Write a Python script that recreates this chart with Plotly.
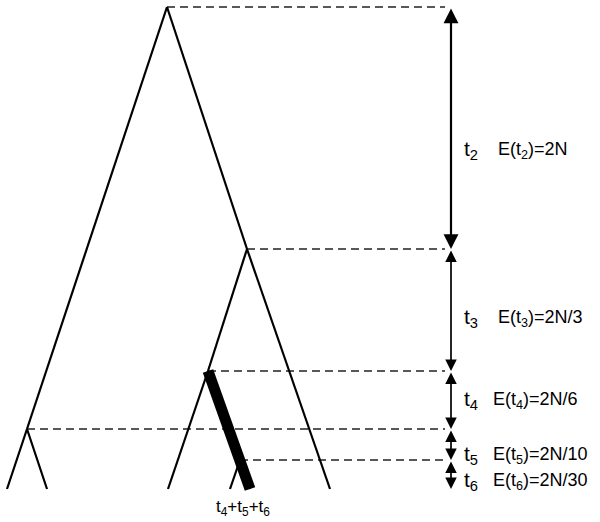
import plotly.graph_objects as go

# ---- data: coalescent tree (x position, time above the leaves) ----
node_ids = ["root", "n3", "n4", "n5", "n6"]
node_x = [167, 247, 208, 27, 240]
node_t = [482, 240, 118, 60, 29]
leaf_ids = ["L1", "L2", "L3", "L4", "L5", "L6"]
leaf_x = [7, 47, 168, 230, 250, 330]

edge_parent = ["root", "n5", "n5", "root", "n3", "n3", "n4", "n4", "n6", "n6"]
edge_child = ["n5", "L1", "L2", "n3", "L6", "n4", "L3", "n6", "L5", "L4"]
thick_path = ["n4", "n6", "L5"]

# intervals between coalescent events (k lineages)
interval_k = [2, 3, 4, 5, 6]
interval_top = ["root", "n3", "n4", "n5", "n6"]
expect_labels = ["2N", "2N/3", "2N/6", "2N/10", "2N/30"]
label_t = [339, 171, 89, 34, 8]
expect_x = [496, 496, 491, 491, 491]
bottom_label = "t<sub>4</sub>+t<sub>5</sub>+t<sub>6</sub>"

# ---- build coordinates ----
pos = {n: (x, t) for n, x, t in zip(node_ids, node_x, node_t)}
pos.update({n: (x, 0) for n, x in zip(leaf_ids, leaf_x)})

FONT = "Liberation Sans, Arial, sans-serif"
DASH_END = 445
ARROW_X = 451

fig = go.Figure()

# dashed guide lines
for n in interval_top:
    x, t = pos[n]
    fig.add_trace(go.Scatter(x=[x, DASH_END], y=[t, t], mode="lines",
                             line=dict(color="#222222", width=1.3, dash="8px,5px"),
                             hoverinfo="skip", showlegend=False))

# tree branches
for p, c in zip(edge_parent, edge_child):
    (x0, t0), (x1, t1) = pos[p], pos[c]
    fig.add_trace(go.Scatter(x=[x0, x1], y=[t0, t1], mode="lines",
                             line=dict(color="black", width=2.2),
                             hoverinfo="skip", showlegend=False))

# thick highlighted lineage
fig.add_trace(go.Scatter(x=[pos[n][0] for n in thick_path],
                         y=[pos[n][1] for n in thick_path], mode="lines",
                         line=dict(color="black", width=11),
                         hoverinfo="skip", showlegend=False))

annotations = []
bounds = [pos[n][1] for n in interval_top] + [0]
for i, k in enumerate(interval_k):
    top, bot = bounds[i], bounds[i + 1]
    annotations.append(dict(x=ARROW_X, y=bot, ax=ARROW_X, ay=top, xref="x", yref="y",
                            axref="x", ayref="y", text="", showarrow=True,
                            arrowside="end+start", arrowhead=2, arrowsize=1.35,
                            arrowwidth=2.2 if i == 0 else 1.7, arrowcolor="black",
                            standoff=0, startstandoff=0))
    annotations.append(dict(x=462, y=label_t[i], xref="x", yref="y",
                            text=f"t<sub>{k}</sub>", showarrow=False,
                            xanchor="left", yanchor="middle",
                            font=dict(family=FONT, size=21, color="black")))
    annotations.append(dict(x=expect_x[i], y=label_t[i], xref="x", yref="y",
                            text=f"E(t<sub>{k}</sub>)={expect_labels[i]}", showarrow=False,
                            xanchor="left", yanchor="middle",
                            font=dict(family=FONT, size=18, color="black")))

annotations.append(dict(x=243, y=-19, xref="x", yref="y", text=bottom_label,
                        showarrow=False, xanchor="center", yanchor="middle",
                        font=dict(family=FONT, size=17, color="black")))

fig.update_layout(
    width=600, height=522,
    margin=dict(l=0, r=0, t=0, b=0),
    plot_bgcolor="white", paper_bgcolor="white",
    xaxis=dict(range=[0, 600], visible=False, fixedrange=True),
    yaxis=dict(range=[-33, 489], visible=False, fixedrange=True),
    annotations=annotations,
    showlegend=False,
)

fig.write_html("out.html", config={"displayModeBar": False},
               post_script="document.body.style.margin='0';document.body.style.overflow='hidden';")
